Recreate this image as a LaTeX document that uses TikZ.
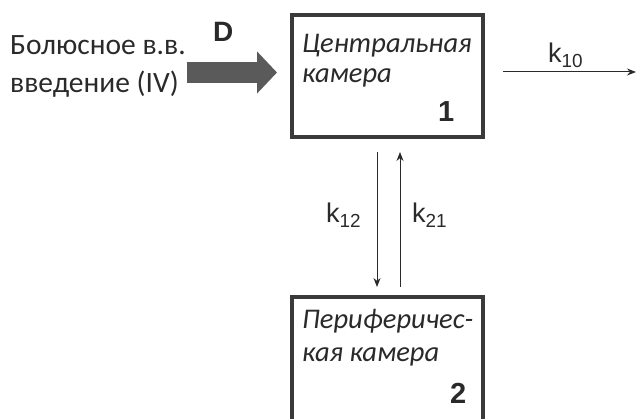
\documentclass[tikz,border=0pt]{standalone}
\usepackage{fontspec}
\setmainfont{Carlito}
\newfontfamily\arialfont{Liberation Sans}
\usetikzlibrary{arrows.meta}
\definecolor{ink}{HTML}{2A2A2A}
\definecolor{boxline}{HTML}{3A3A3A}
\definecolor{bolus}{HTML}{5A5A5A}
\tikzset{
  compartment/.style={draw=boxline, line width=3.5pt, fill=white},
  txt/.style={anchor=base west, inner sep=0pt, text=ink, font=\fontsize{29.5}{34}\selectfont},
  itxt/.style={txt, font=\fontsize{28.5}{34}\selectfont\itshape},
  lbl/.style={anchor=base west, inner sep=0pt, text=ink, font=\arialfont\fontsize{27}{32}\selectfont},
  num/.style={anchor=base west, inner sep=0pt, text=ink, font=\arialfont\bfseries\fontsize{29}{34}\selectfont},
  flow/.style={draw=ink, line width=1pt, -{Stealth[length=9pt,width=7pt]}},
}
\begin{document}
\begin{tikzpicture}[x=1pt,y=-1pt]
  \useasboundingbox (0,0) rectangle (636,419);
  % compartments
  \draw[compartment] (292,15) rectangle (483,137);
  \draw[compartment] (292,297) -- (292,425) -- (483,425) -- (483,297) -- cycle;
  % labels in compartment 1
  \node[itxt] (t1a) at (302,53) {Центральная};
  \node[itxt] (t1b) at (302,83) {камера};
  \node[num] (n1) at (438,122) {1};
  % labels in compartment 2
  \node[itxt] (t2a) at (302,328) {Периферичес-};
  \node[itxt] (t2b) at (302,361) {кая камера};
  \node[num] (n2) at (450,403) {2};
  % bolus dose
  \node[txt] (dose1) at (10,55) {Болюсное в.в.};
  \node[txt] (dose2) at (10,93) {введение (IV)};
  \node[num, font=\arialfont\bfseries\fontsize{28}{32}\selectfont] (D) at (213,42) {D};
  \coordinate (bolusstart) at (187,72.5);
  \coordinate (bolusend) at (277,72.5);
  \draw[bolus, line width=21pt, -{Triangle[length=20pt,width=41pt]}] (bolusstart) -- (bolusend);
  % elimination
  \coordinate (e0) at (503,72);
  \coordinate (e1) at (636,72);
  \draw[flow] (e0) -- (e1);
  \node[lbl] (k10) at (548,63) {k\textsubscript{10}};
  % exchange between compartments
  \coordinate (a0) at (377,152);
  \coordinate (a1) at (377,287);
  \coordinate (b0) at (400,287);
  \coordinate (b1) at (400,152);
  \draw[flow] (a0) -- (a1);
  \draw[flow] (b0) -- (b1);
  \node[lbl] (k12) at (326,223) {k\textsubscript{12}};
  \node[lbl] (k21) at (412,223) {k\textsubscript{21}};
\end{tikzpicture}
\end{document}
